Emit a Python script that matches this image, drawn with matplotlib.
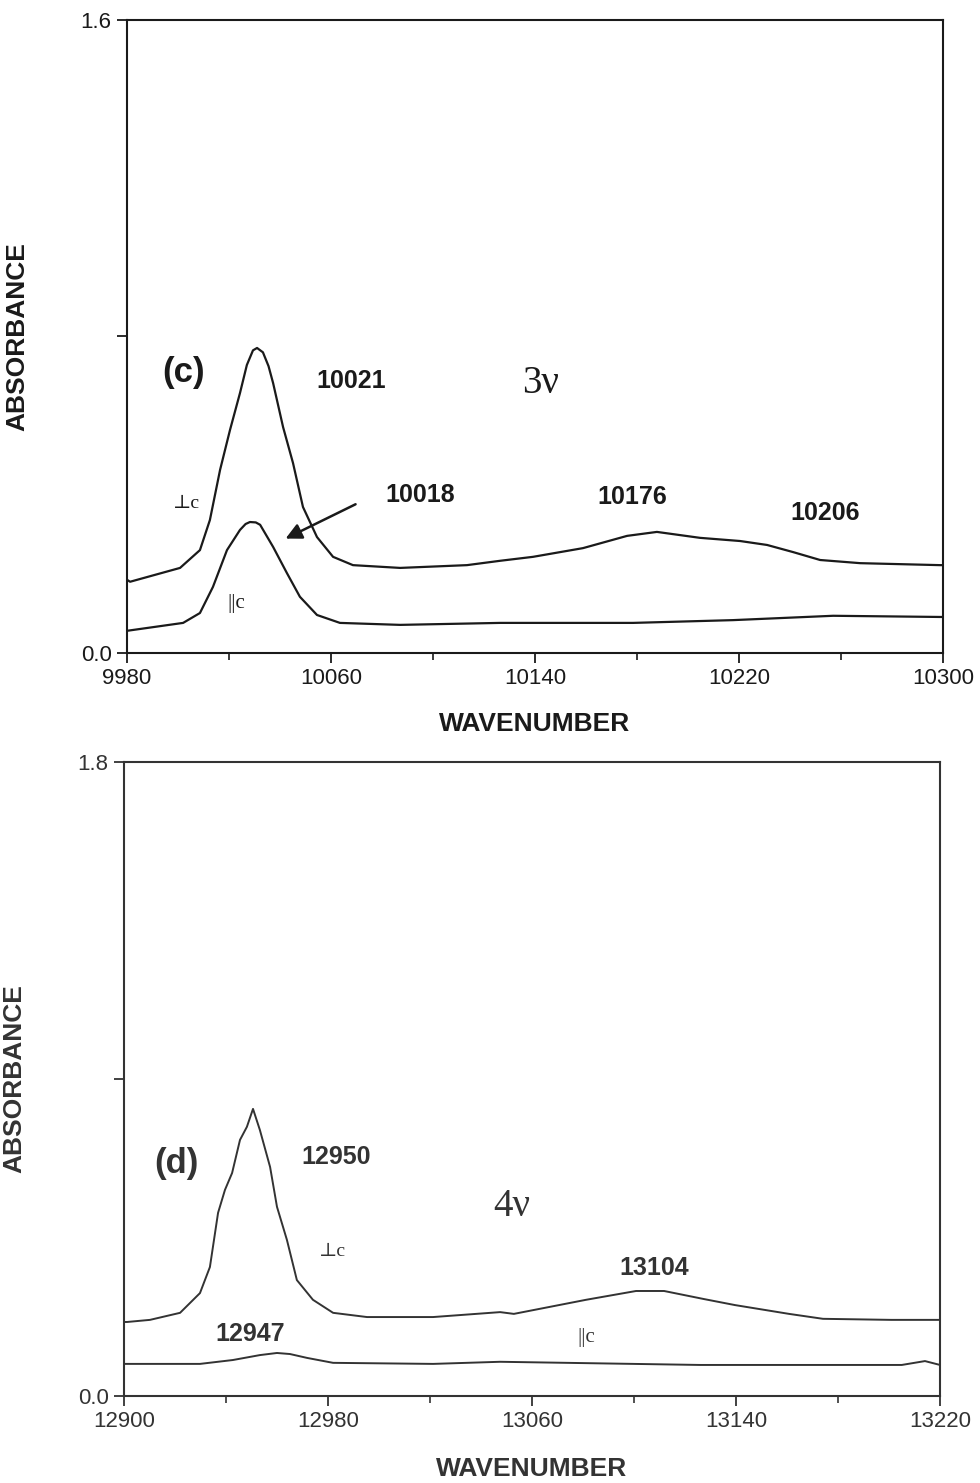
import numpy as np
import matplotlib
matplotlib.use("Agg")
import matplotlib.pyplot as plt

plt.rcParams['font.family'] = ['Liberation Sans', 'DejaVu Sans']

# Panel (c): 3v overtone region
c_perp_x = [9980, 9981.2, 10000.8, 10008.6, 10012.5, 10016.5, 10020.4, 10024.3, 10027.0,
            10029.4, 10031.0, 10033.3, 10035.5, 10037.3, 10041.2, 10045.1, 10049.0,
            10054.5, 10060.8, 10068.6, 10087.1, 10113.3, 10126.3, 10139.2, 10158.8,
            10176.1, 10187.8, 10204.7, 10220.4, 10231.0, 10241.2, 10251.8, 10267.5,
            10298.8, 10300]
c_perp_y = [0.185, 0.180, 0.215, 0.260, 0.336, 0.463, 0.564, 0.657, 0.728,
            0.765, 0.771, 0.760, 0.725, 0.682, 0.571, 0.480, 0.369,
            0.293, 0.243, 0.222, 0.215, 0.222, 0.233, 0.243, 0.265,
            0.296, 0.306, 0.291, 0.283, 0.273, 0.255, 0.235, 0.227,
            0.222, 0.222]

c_par_x = [9980, 10002, 10008.6, 10013.7, 10019.2, 10024.3, 10026.5, 10028.2, 10030.5,
           10032.2, 10037.3, 10042.7, 10047.8, 10054.5, 10063.5, 10087.1, 10126.3,
           10178.4, 10217.6, 10256.9, 10298.8, 10300]
c_par_y = [0.056, 0.076, 0.101, 0.167, 0.260, 0.311, 0.326, 0.331, 0.330,
           0.324, 0.268, 0.202, 0.142, 0.096, 0.076, 0.071, 0.076,
           0.076, 0.083, 0.094, 0.091, 0.091]

# Panel (d): 4v overtone region
d_perp_x = [12900, 12901.2, 12910.2, 12922.0, 12929.8, 12933.7, 12936.9, 12939.6, 12942.4,
            12945.5, 12948.2, 12950.6, 12953.3, 12957.3, 12960.0, 12963.9, 12967.8,
            12974.1, 12982.0, 12995.3, 13021.2, 13047.5, 13052.9, 13081.2, 13100.8,
            13111.8, 13127.5, 13139.6, 13160.8, 13174.1, 13200.8, 13220]
d_perp_y = [0.210, 0.210, 0.216, 0.236, 0.292, 0.366, 0.520, 0.585, 0.633,
            0.727, 0.764, 0.815, 0.755, 0.650, 0.537, 0.443, 0.329,
            0.273, 0.236, 0.224, 0.224, 0.238, 0.233, 0.273, 0.298,
            0.298, 0.275, 0.258, 0.233, 0.219, 0.216, 0.216]

d_par_x = [12900, 12901.2, 12929.8, 12942.7, 12953.3, 12960.0, 12965.1, 12971.8, 12982.0,
           13021.2, 13047.5, 13125.9, 13205.0, 13214.1, 13220]
d_par_y = [0.091, 0.091, 0.091, 0.102, 0.116, 0.122, 0.119, 0.108, 0.094,
           0.091, 0.097, 0.088, 0.088, 0.099, 0.088]

c_xticks = [9980, 10060, 10140, 10220, 10300]
d_xticks = [12900, 12980, 13060, 13140, 13220]

fig = plt.figure(figsize=(9.8, 14.83), dpi=100)
ax1 = fig.add_axes([0.1296, 0.5597, 0.8327, 0.4268])
ax2 = fig.add_axes([0.1265, 0.0587, 0.8327, 0.4275])

ink = '#1a1a1a'
serif = ['Liberation Serif', 'DejaVu Serif']


def style_axis(ax, xticks, ymax, color, xlab_y):
    ax.set_xlim(xticks[0], xticks[-1])
    ax.set_ylim(0, ymax)
    ax.set_xticks(xticks)
    ax.set_xticks([(a + b) / 2 for a, b in zip(xticks[:-1], xticks[1:])], minor=True)
    ax.set_yticks([0, ymax / 2, ymax])
    ax.set_yticklabels(['0.0', '', f'{ymax:.1f}'])
    ax.tick_params(axis='both', which='major', direction='out', length=7, width=1.3,
                   labelsize=16, colors=color, pad=4)
    ax.tick_params(axis='x', which='minor', direction='out', length=5, width=1.2, colors=color)
    ax.tick_params(top=False, right=False)
    for s in ax.spines.values():
        s.set_linewidth(1.5)
        s.set_color(color)
    ax.set_xlabel('WAVENUMBER', fontsize=19, fontweight='bold', color=color)
    ax.set_ylabel('ABSORBANCE', fontsize=19, fontweight='bold', color=color)
    ax.xaxis.set_label_coords(0.5, xlab_y)
    ax.yaxis.set_label_coords(-0.12, 0.5)


# top panel
ax1.plot(c_perp_x, c_perp_y, color=ink, lw=1.6)
ax1.plot(c_par_x, c_par_y, color=ink, lw=1.6)
style_axis(ax1, c_xticks, 1.6, ink, -0.093)

bold = dict(fontsize=18, fontweight='bold', color=ink, ha='center', va='center')
ax1.text(10002, 0.708, '(c)', fontsize=25, fontweight='bold', color=ink, ha='center', va='center')
ax1.text(10068, 0.688, '10021', **bold)
ax1.text(10142, 0.682, '3ν', fontsize=28, family=serif, color=ink, ha='center', va='center')
ax1.text(10003.5, 0.379, '⊥c', fontsize=14, family=serif, color=ink, ha='center', va='center')
ax1.text(10095, 0.400, '10018', **bold)
ax1.text(10178, 0.394, '10176', **bold)
ax1.text(10253.7, 0.354, '10206', **bold)
ax1.text(10022.7, 0.126, '||c', fontsize=15, family=serif, color=ink, ha='center', va='center')
ax1.annotate('', xy=(10041.2, 0.286), xytext=(10070.6, 0.379),
             arrowprops=dict(arrowstyle='-|>', color=ink, lw=1.8, mutation_scale=24))

# bottom panel
gray = '#333333'
ax2.plot(d_perp_x, d_perp_y, color=gray, lw=1.4)
ax2.plot(d_par_x, d_par_y, color=gray, lw=1.4)
style_axis(ax2, d_xticks, 1.8, gray, -0.097)

bold2 = dict(bold, color=gray)
ax2.text(12920.4, 0.661, '(d)', fontsize=25, fontweight='bold', color=gray, ha='center', va='center')
ax2.text(12983.1, 0.679, '12950', **bold2)
ax2.text(13052.2, 0.537, '4ν', fontsize=28, family=serif, color=gray, ha='center', va='center')
ax2.text(12981.6, 0.409, '⊥c', fontsize=14, family=serif, color=gray, ha='center', va='center')
ax2.text(13107.8, 0.363, '13104', **bold2)
ax2.text(12949.4, 0.176, '12947', **bold2)
ax2.text(13081.2, 0.165, '||c', fontsize=15, family=serif, color=gray, ha='center', va='center')

fig.savefig('out.png', dpi=100)
